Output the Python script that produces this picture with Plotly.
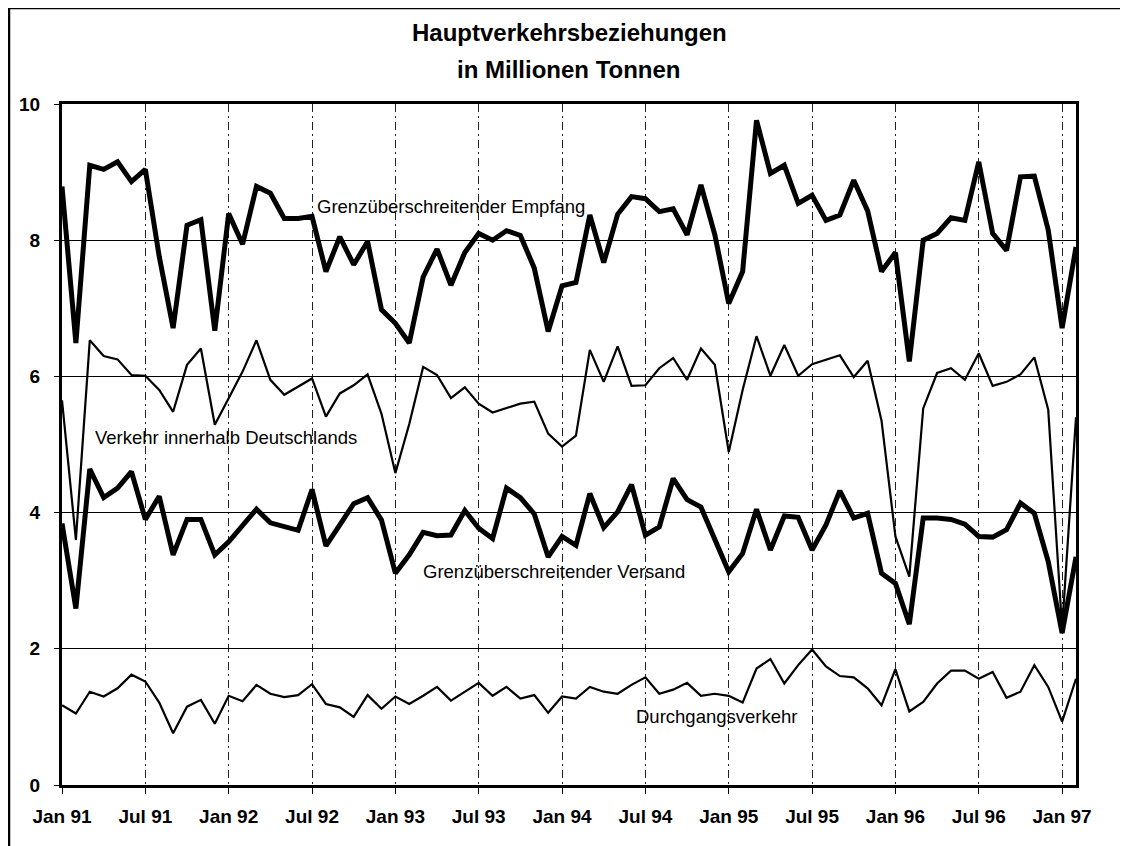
import plotly.graph_objects as go

# Month categories Jan 91 .. Feb 97
month_names = ["Jan", "Feb", "Mrz", "Apr", "Mai", "Jun", "Jul", "Aug", "Sep", "Okt", "Nov", "Dez"]
years = ["91", "92", "93", "94", "95", "96", "97"]
months = [f"{m} {y}" for y in years for m in month_names][:74]

tick_labels = ["Jan 91", "Jul 91", "Jan 92", "Jul 92", "Jan 93", "Jul 93", "Jan 94",
               "Jul 94", "Jan 95", "Jul 95", "Jan 96", "Jul 96", "Jan 97"]
tick_cats = ["Jan 91", "Jul 91", "Jan 92", "Jul 92", "Jan 93", "Jul 93", "Jan 94",
             "Jul 94", "Jan 95", "Jul 95", "Jan 96", "Jul 96", "Jan 97"]

empfang = [8.79, 6.49, 9.10, 9.04, 9.15, 8.86, 9.04, 7.76, 6.71, 8.22,
           8.30, 6.67, 8.39, 7.94, 8.79, 8.69, 8.32, 8.32, 8.35, 7.54,
           8.05, 7.64, 7.98, 6.98, 6.78, 6.49, 7.46, 7.87, 7.34, 7.82,
           8.10, 8.00, 8.14, 8.07, 7.59, 6.66, 7.33, 7.38, 8.37, 7.67,
           8.38, 8.64, 8.61, 8.42, 8.46, 8.08, 8.81, 8.08, 7.07, 7.54,
           9.76, 8.98, 9.10, 8.54, 8.66, 8.29, 8.37, 8.88, 8.43, 7.54,
           7.82, 6.22, 8.00, 8.10, 8.33, 8.29, 9.15, 8.10, 7.85, 8.93,
           8.94, 8.15, 6.71, 7.90]

inland = [5.65, 3.60, 6.53, 6.30, 6.25, 6.02, 6.01, 5.80, 5.48, 6.17,
          6.41, 5.29, 5.68, 6.07, 6.53, 5.95, 5.73, 5.85, 5.97, 5.41,
          5.75, 5.87, 6.03, 5.45, 4.58, 5.30, 6.14, 6.02, 5.68, 5.84,
          5.60, 5.47, 5.53, 5.60, 5.63, 5.16, 4.97, 5.13, 6.39, 5.92,
          6.44, 5.86, 5.87, 6.12, 6.27, 5.95, 6.41, 6.17, 4.89, 5.80,
          6.59, 6.01, 6.46, 6.01, 6.18, 6.24, 6.31, 5.99, 6.23, 5.35,
          3.65, 3.06, 5.53, 6.05, 6.12, 5.95, 6.34, 5.86, 5.92, 6.03,
          6.28, 5.51, 2.30, 5.40]

versand = [3.84, 2.59, 4.64, 4.22, 4.36, 4.60, 3.90, 4.24, 3.38, 3.90,
           3.90, 3.38, 3.57, 3.80, 4.05, 3.85, 3.80, 3.74, 4.34, 3.51,
           3.82, 4.13, 4.22, 3.89, 3.11, 3.38, 3.71, 3.66, 3.67, 4.03,
           3.77, 3.62, 4.36, 4.22, 3.98, 3.35, 3.65, 3.52, 4.28, 3.78,
           4.01, 4.41, 3.67, 3.79, 4.50, 4.19, 4.08, 3.60, 3.13, 3.40,
           4.05, 3.45, 3.95, 3.93, 3.45, 3.82, 4.32, 3.92, 3.99, 3.11,
           2.96, 2.36, 3.92, 3.92, 3.90, 3.83, 3.65, 3.64, 3.75, 4.14,
           3.99, 3.28, 2.23, 3.35]

durchgang = [1.17, 1.05, 1.37, 1.30, 1.42, 1.62, 1.52, 1.21, 0.76, 1.15,
             1.25, 0.90, 1.31, 1.23, 1.47, 1.34, 1.29, 1.32, 1.48, 1.19,
             1.14, 1.00, 1.32, 1.12, 1.30, 1.19, 1.31, 1.44, 1.24, 1.37,
             1.50, 1.31, 1.44, 1.27, 1.32, 1.06, 1.30, 1.27, 1.44, 1.37,
             1.34, 1.47, 1.58, 1.34, 1.40, 1.50, 1.31, 1.34, 1.31, 1.21,
             1.71, 1.85, 1.49, 1.76, 1.99, 1.74, 1.60, 1.58, 1.42, 1.17,
             1.70, 1.08, 1.22, 1.49, 1.68, 1.68, 1.56, 1.66, 1.28, 1.37,
             1.76, 1.44, 0.93, 1.56]

series = [
    ("Grenzüberschreitender Empfang", empfang, 5),
    ("Verkehr innerhalb Deutschlands", inland, 2.2),
    ("Grenzüberschreitender Versand", versand, 5),
    ("Durchgangsverkehr", durchgang, 2.2),
]

FONT = "Liberation Sans, Arial, Helvetica, sans-serif"

# page layout (the page body has an 8px margin)
L, T = 54, 96
PW, PH = 1014, 681  # plot area size in px

fig = go.Figure()
for name, vals, w in series:
    fig.add_trace(go.Scatter(x=months, y=vals, mode="lines", name=name,
                             line=dict(color="black", width=w),
                             showlegend=False))

# series labels, centred (month index, value)
labels = [
    ("Grenzüberschreitender Empfang", 28.0, 8.49),
    ("Verkehr innerhalb Deutschlands", 11.8, 5.10),
    ("Grenzüberschreitender Versand", 35.4, 3.13),
    ("Durchgangsverkehr", 47.1, 1.01),
]
for txt, xc, yc in labels:
    fig.add_annotation(x=xc / 73, y=yc / 10, xref="paper", yref="paper",
                       text=txt, showarrow=False,
                       font=dict(family=FONT, size=18.5, color="black"),
                       xanchor="center", yanchor="middle")

# title (two lines)
def py(ypix):
    return (T + PH - ypix) / PH

fig.add_annotation(x=0.5, y=py(32 - 8), xref="paper", yref="paper",
                   text="<b>Hauptverkehrsbeziehungen</b>", showarrow=False,
                   font=dict(family=FONT, size=24, color="black"),
                   xanchor="center", yanchor="middle")
fig.add_annotation(x=0.5, y=py(69 - 8), xref="paper", yref="paper",
                   text="<b>in Millionen Tonnen</b>", showarrow=False,
                   font=dict(family=FONT, size=24, color="black"),
                   xanchor="center", yanchor="middle")

# outer frame (left and top edges)
def px(xpix):
    return (xpix - L) / PW

fig.add_shape(type="line", xref="paper", yref="paper",
              x0=px(1), x1=px(1), y0=py(900), y1=py(0),
              line=dict(color="black", width=2.5))
fig.add_shape(type="line", xref="paper", yref="paper",
              x0=px(1), x1=px(1200), y0=py(0), y1=py(0),
              line=dict(color="black", width=2.5))

fig.update_layout(
    width=1128, height=846,
    margin=dict(l=L, r=1128 - L - PW, t=T, b=846 - T - PH),
    paper_bgcolor="white", plot_bgcolor="white",
    font=dict(family=FONT, color="black"),
)
fig.update_xaxes(
    type="category", categoryorder="array", categoryarray=months,
    range=[0, 73], tickmode="array", tickvals=tick_cats, ticktext=tick_labels,
    ticks="outside", ticklen=6, tickwidth=1, tickcolor="black",
    tickfont=dict(family=FONT, size=19, color="black", weight="bold"),
    ticklabelstandoff=6,
    showgrid=True, gridcolor="#222", gridwidth=1, griddash="8px,4px,2px,4px",
    showline=True, linecolor="black", linewidth=3, mirror=True, zeroline=False,
)
fig.update_yaxes(
    range=[0, 10], tickmode="array", tickvals=[0, 2, 4, 6, 8, 10],
    ticktext=["0", "2", "4", "6", "8", "10"],
    ticks="outside", ticklen=5, tickwidth=1, tickcolor="black",
    tickfont=dict(family=FONT, size=19, color="black", weight="bold"),
    ticklabelstandoff=10,
    showgrid=True, gridcolor="black", gridwidth=1,
    showline=True, linecolor="black", linewidth=3, mirror=True, zeroline=False,
)

fig.write_html("out.html")
